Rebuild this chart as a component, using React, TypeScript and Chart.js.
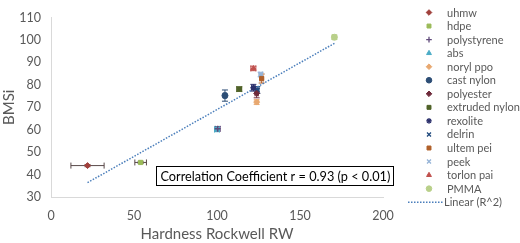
import React, { useEffect, useRef } from "react";
import { Chart, registerables } from "chart.js";
import { drawPoint } from "chart.js/helpers";

Chart.register(...registerables);

const materials = ["uhmw", "hdpe", "polystyrene", "abs", "noryl ppo", "cast nylon", "polyester", "extruded nylon", "rexolite", "delrin", "ultem pei", "peek", "torlon pai", "PMMA"];
const hardness = [22, 54, 100.4, 100, 123.9, 104.8, 123.9, 113.4, 121.9, 124.3, 126.9, 126.3, 121.9, 170.7];
const bmsi = [44, 45.4, 60.4, 60.1, 72.3, 75.2, 76.2, 78.1, 78.7, 77.7, 82.8, 84.6, 87.3, 101.2];
const hardnessErr = [10, 3.5, 1.5, 1.5, 1, 1, 1, 1.5, 1, 1, 1, 1, 1.5, 1];
const bmsiErr = [0.5, 0.5, 1, 1, 1, 2.5, 2, 1, 1.5, 1.5, 2, 1, 1, 1];
const markerStyles = ["rectRot", "rect", "cross", "triangle", "rectRot", "circle", "rectRot", "rect", "star", "crossRot", "rect", "crossRot", "triangle", "circle"];
const markerColors = ["#a0403c", "#9bbb59", "#604a7b", "#4bacc6", "#e8a870", "#2c4d75", "#6e2a3a", "#4f6228", "#2b2f6b", "#1f497d", "#b0602a", "#95b3d7", "#c0504d", "#b9d08a"];
const trendX = [22, 171];
const trendY = [36.4, 98.6];
const trendLabel = "Linear (R^2)";
const annotationText = "Correlation Coefficient r = 0.93 (p < 0.01)";
const xTicks = [0, 50, 100, 150, 200];
const yTicks = [30, 40, 50, 60, 70, 80, 90, 100, 110];

const FONT = 'Lato, "Open Sans", sans-serif';
const GRAY = "#595959";

const overlayPlugin = {
  id: "overlay",
  beforeDatasetsDraw(chart: any) {
    const { ctx, scales } = chart;
    const xs = scales.x, ys = scales.y;
    ctx.save();
    ctx.lineWidth = 1;
    for (let i = 0; i < materials.length; i++) {
      ctx.strokeStyle = i < 2 ? "#5a4a4a" : markerColors[i];
      const px = xs.getPixelForValue(hardness[i]);
      const py = ys.getPixelForValue(bmsi[i]);
      const x0 = xs.getPixelForValue(hardness[i] - hardnessErr[i]);
      const x1 = xs.getPixelForValue(hardness[i] + hardnessErr[i]);
      const y0 = ys.getPixelForValue(bmsi[i] - bmsiErr[i]);
      const y1 = ys.getPixelForValue(bmsi[i] + bmsiErr[i]);
      ctx.beginPath();
      ctx.moveTo(x0, py); ctx.lineTo(x1, py);
      ctx.moveTo(x0, py - 3); ctx.lineTo(x0, py + 3);
      ctx.moveTo(x1, py - 3); ctx.lineTo(x1, py + 3);
      ctx.moveTo(px, y0); ctx.lineTo(px, y1);
      ctx.moveTo(px - 3, y0); ctx.lineTo(px + 3, y0);
      ctx.moveTo(px - 3, y1); ctx.lineTo(px + 3, y1);
      ctx.stroke();
    }
    ctx.restore();
  },
  afterDraw(chart: any) {
    const { ctx } = chart;
    ctx.save();
    // annotation box
    const bx = 156.5, by = 166.5, bw = 237, bh = 19;
    ctx.fillStyle = "#ffffff";
    ctx.fillRect(bx, by, bw, bh);
    ctx.strokeStyle = "#000000";
    ctx.lineWidth = 1;
    ctx.strokeRect(bx, by, bw, bh);
    let size = 14;
    ctx.font = `${size}px ${FONT}`;
    const w = ctx.measureText(annotationText).width;
    size = size * 230 / w;
    ctx.font = `${size}px ${FONT}`;
    ctx.fillStyle = "#000000";
    ctx.textBaseline = "middle";
    ctx.textAlign = "left";
    ctx.fillText(annotationText, bx + 4, by + bh / 2 + 0.5);

    // legend
    const lx = 429, tx = 447, ly0 = 12.5, dy = 13.55;
    ctx.font = `11px ${FONT}`;
    for (let i = 0; i < materials.length; i++) {
      const y = ly0 + i * dy;
      const st = markerStyles[i];
      const isLine = st === "cross" || st === "crossRot" || st === "star";
      ctx.fillStyle = markerColors[i];
      ctx.strokeStyle = markerColors[i];
      ctx.lineWidth = isLine ? 1.3 : 1;
      drawPoint(ctx, { pointStyle: st, radius: 2.8, rotation: 0, borderWidth: isLine ? 1.3 : 1 } as any, lx, y);
      ctx.fillStyle = GRAY;
      ctx.textBaseline = "middle";
      ctx.fillText(materials[i], tx, y + 0.5);
    }
    const yl = ly0 + materials.length * dy;
    ctx.strokeStyle = "#4a7ebb";
    ctx.lineWidth = 1.5;
    ctx.setLineDash([1.5, 1.5]);
    ctx.beginPath();
    ctx.moveTo(408, yl); ctx.lineTo(443, yl);
    ctx.stroke();
    ctx.setLineDash([]);
    ctx.fillStyle = GRAY;
    ctx.fillText(trendLabel, 444, yl + 0.5);
    ctx.restore();
  },
};

export default function App() {
  const ref = useRef<HTMLCanvasElement>(null);
  useEffect(() => {
    document.body.style.margin = "0";
    const datasets: any[] = materials.map((m, i) => {
      const st = markerStyles[i];
      const isLine = st === "cross" || st === "crossRot" || st === "star";
      return {
        type: "scatter",
        label: m,
        data: [{ x: hardness[i], y: bmsi[i] }],
        pointStyle: st,
        pointRadius: 3,
        backgroundColor: markerColors[i],
        borderColor: markerColors[i],
        borderWidth: isLine ? 1.5 : 1,
      };
    });
    datasets.push({
      type: "line",
      label: trendLabel,
      data: trendX.map((x, i) => ({ x, y: trendY[i] })),
      borderColor: "#4a7ebb",
      borderWidth: 1.5,
      borderDash: [1.5, 1.5],
      pointRadius: 0,
      fill: false,
      order: 20,
    });
    const chart = new Chart(ref.current!, {
      type: "scatter",
      data: { datasets },
      options: {
        animation: false,
        responsive: false,
        layout: { padding: { top: 6, right: 137, left: 0, bottom: 0 } },
        plugins: { legend: { display: false }, tooltip: { enabled: false } },
        scales: {
          x: {
            type: "linear",
            min: 0,
            max: 200,
            afterBuildTicks: (s: any) => { s.ticks = xTicks.map((v) => ({ value: v })); },
            grid: { display: false, drawTicks: false },
            border: { display: true, color: "#d9d9d9", width: 1 },
            ticks: { color: GRAY, font: { family: FONT, size: 12.5 }, padding: 11 },
            title: { display: true, text: "Hardness Rockwell RW", color: GRAY, font: { family: FONT, size: 15 }, padding: { top: 2, bottom: 0 } },
            afterFit: (s: any) => { s.height = 46; },
          },
          y: {
            type: "linear",
            min: 30,
            max: 110,
            afterBuildTicks: (s: any) => { s.ticks = yTicks.map((v) => ({ value: v })); },
            grid: { display: false, drawTicks: false },
            border: { display: true, color: "#d9d9d9", width: 1 },
            ticks: { color: GRAY, font: { family: FONT, size: 12.5 }, padding: 10 },
            title: { display: true, text: "BMSi", color: GRAY, font: { family: FONT, size: 15 }, padding: { top: 0, bottom: 6 } },
            afterFit: (s: any) => { s.width = 51; },
          },
        },
      },
      plugins: [overlayPlugin],
    } as any);
    return () => chart.destroy();
  }, []);
  return (
    <div style={{ position: "fixed", left: 0, top: 0, width: 520, height: 243, background: "#fff" }}>
      <canvas ref={ref} width={520} height={243} style={{ width: 520, height: 243 }} />
    </div>
  );
}
